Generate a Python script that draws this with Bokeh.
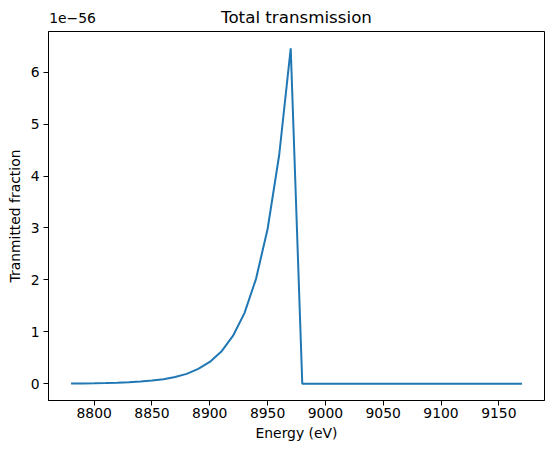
from bokeh.plotting import figure
from bokeh.models import FixedTicker, LinearAxis, Range1d
from bokeh.embed import file_html
from bokeh.resources import INLINE

# Energy grid (eV)
energy = [8780, 8790, 8800, 8810, 8820, 8830, 8840, 8850, 8860, 8870,
          8880, 8890, 8900, 8910, 8920, 8930, 8940, 8950, 8960, 8970,
          8980, 8990, 9000, 9010, 9020, 9030, 9040, 9050, 9060, 9070,
          9080, 9090, 9100, 9110, 9120, 9130, 9140, 9150, 9160, 9170]
# Transmitted fraction, in units of 1e-56
transmission = [0.004, 0.006, 0.009, 0.013, 0.019, 0.028, 0.041, 0.060, 0.088, 0.130,
                0.190, 0.285, 0.42, 0.62, 0.92, 1.36, 2.02, 2.98, 4.40, 6.46,
                0.0, 0.0, 0.0, 0.0, 0.0, 0.0, 0.0, 0.0, 0.0, 0.0,
                0.0, 0.0, 0.0, 0.0, 0.0, 0.0, 0.0, 0.0, 0.0, 0.0]
x_ticks = [8800, 8850, 8900, 8950, 9000, 9050, 9100, 9150]
y_ticks = [0, 1, 2, 3, 4, 5, 6]
offset_text = "1e\u221256"
title_text = "Total transmission"

FONT = "DejaVu Sans"
SMALL = "13.9px"
LARGE = "16.7px"
FW, FH = 496, 369

x_lo, x_hi = min(energy), max(energy)
x_pad = 0.05 * (x_hi - x_lo)
y_hi = max(transmission)
y_pad = 0.05 * y_hi
x_range = Range1d(x_lo - x_pad, x_hi + x_pad)
y_range = Range1d(-y_pad, y_hi + y_pad)

p = figure(frame_width=FW, frame_height=FH, output_backend="svg", toolbar_location=None,
           x_range=x_range, y_range=y_range,
           min_border_left=48, min_border_right=9, min_border_top=31, min_border_bottom=52)

p.line(energy, transmission, line_color="#1f77b4", line_width=2.0)

p.xgrid.visible = False
p.ygrid.visible = False
p.outline_line_color = "black"
p.outline_line_alpha = 1.0
p.outline_line_width = 1


def style(ax):
    ax.axis_line_color = "black"
    ax.major_tick_line_color = "black"
    ax.major_tick_out = 5
    ax.major_tick_in = 0
    ax.minor_tick_line_color = None
    ax.major_label_text_font = FONT
    ax.major_label_text_font_size = SMALL
    ax.major_label_text_color = "black"
    ax.axis_label_text_font = FONT
    ax.axis_label_text_font_size = SMALL
    ax.axis_label_text_font_style = "normal"
    ax.axis_label_text_color = "black"


style(p.xaxis[0])
style(p.yaxis[0])
p.xaxis[0].ticker = FixedTicker(ticks=x_ticks)
p.yaxis[0].ticker = FixedTicker(ticks=y_ticks)
p.xaxis[0].axis_label = "Energy (eV)"
p.yaxis[0].axis_label = "Tranmitted fraction"
p.xaxis[0].major_label_standoff = 2
p.xaxis[0].axis_label_standoff = 4
p.yaxis[0].major_label_standoff = 4
p.yaxis[0].axis_label_standoff = 5

# Header row: offset text (left) and title (centre), drawn by an axis placed above
off_pos = round(x_range.start + 24.0 * (x_range.end - x_range.start) / FW, 1)
top = LinearAxis(ticker=FixedTicker(ticks=[off_pos]),
                 major_label_overrides={off_pos: offset_text},
                 axis_label=title_text)
style(top)
top.axis_line_color = None
top.major_tick_line_color = None
top.major_tick_out = 0
top.major_label_standoff = 9
top.axis_label_standoff = -17
top.axis_label_text_font_size = LARGE
p.add_layout(top, "above")

open("out.html", "w").write(file_html(p, INLINE))
